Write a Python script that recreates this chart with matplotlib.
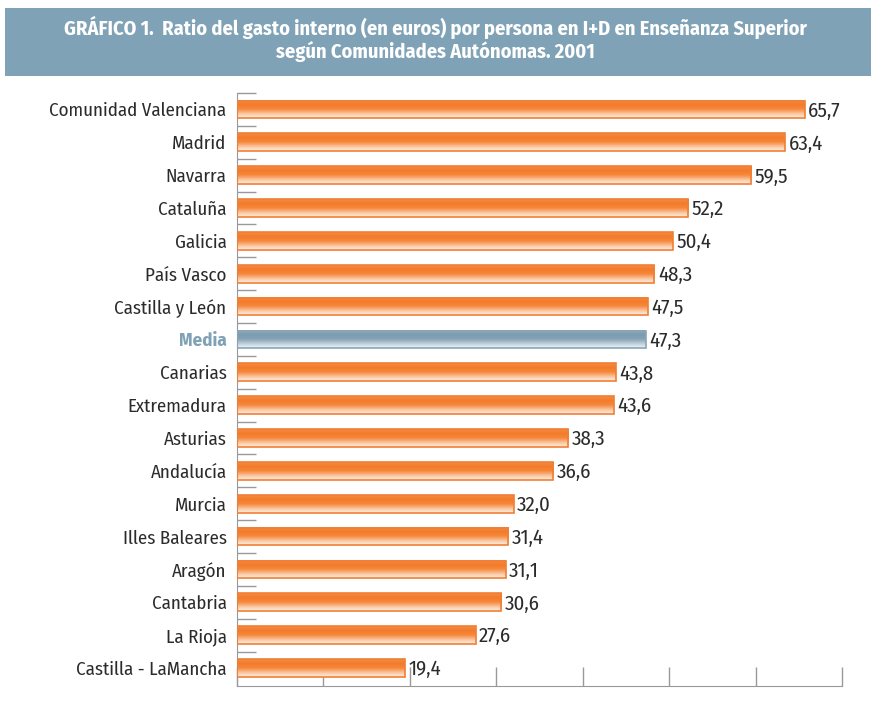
import matplotlib
matplotlib.use("Agg")
import matplotlib.pyplot as plt
import numpy as np
from matplotlib.colors import LinearSegmentedColormap
from matplotlib.patches import Rectangle
from matplotlib import font_manager

names = {f.name for f in font_manager.fontManager.ttflist}
FONT = "DejaVu Sans"
for cand in ["Fira Sans Condensed", "PT Sans Narrow", "Roboto Condensed", "Open Sans Condensed",
             "Encode Sans Condensed", "Archivo Narrow", "Asap Condensed", "Liberation Sans Narrow"]:
    if cand in names:
        FONT = cand
        break

categories = ["Comunidad Valenciana", "Madrid", "Navarra", "Cataluña", "Galicia",
              "País Vasco", "Castilla y León", "Media", "Canarias", "Extremadura",
              "Asturias", "Andalucía", "Murcia", "Illes Baleares", "Aragón",
              "Cantabria", "La Rioja", "Castilla - LaMancha"]
values = [65.7, 63.4, 59.5, 52.2, 50.4, 48.3, 47.5, 47.3, 43.8, 43.6,
          38.3, 36.6, 32.0, 31.4, 31.1, 30.6, 27.6, 19.4]
x_ticks = [0, 10, 20, 30, 40, 50, 60, 70]
title = "GRÁFICO 1.  Ratio del gasto interno (en euros) por persona en I+D en Enseñanza Superior\nsegún Comunidades Autónomas. 2001"

plt.rcParams['font.family'] = [FONT, 'DejaVu Sans']

fig = plt.figure(figsize=(8.71, 7.05), dpi=100)
fig.patch.set_facecolor("white")

# title band
fig.patches.append(Rectangle((5/871, 1-76/705), 866/871, 68/705, transform=fig.transFigure,
                             facecolor="#7fa2b6", edgecolor="none", zorder=0))
fig.text(0.5, 1-39/705, title, ha="center", va="center", color="white",
         fontsize=14.6, fontweight="bold", linespacing=1.15)

ax = fig.add_axes([237/871, 1-686/705, (842-237)/871, (686-93)/705])
y = np.arange(len(categories))
h = 0.54
orange = LinearSegmentedColormap.from_list("o", ["#fef0e6", "#fbc39c", "#f6893c", "#f47a2a", "#f58c45"])
blue = LinearSegmentedColormap.from_list("b", ["#f0f4f6", "#bccdd8", "#86a3b5", "#7d9cb0", "#8fabbc"])
grad = np.linspace(0, 1, 64).reshape(-1, 1)

bars = ax.barh(y, values, height=h, facecolor="none", zorder=3)
for i, (b, v) in enumerate(zip(bars, values)):
    media = categories[i] == "Media"
    cmap = blue if media else orange
    ec = "#8aa5b8" if media else "#f07f35"
    b.set_edgecolor(ec)
    b.set_linewidth(1.2)
    x0, y0 = b.get_x(), b.get_y()
    ax.imshow(grad, cmap=cmap, aspect="auto", origin="lower",
              extent=(x0, x0 + b.get_width(), y0 + b.get_height(), y0), zorder=2,
              interpolation="bilinear")
    ax.text(v + 0.4, b.get_y() + b.get_height() / 2 + 0.05, f"{v:.1f}".replace(".", ","),
            va="center", ha="left", fontsize=15, color="#2b2b2b")

ax.set_xlim(0, 70)
ax.set_ylim(len(categories) - 0.45, -0.5)
ax.set_yticks(y)
ax.set_yticklabels(categories, fontsize=13.6, color="#2b2b2b")
for lab in ax.get_yticklabels():
    if lab.get_text() == "Media":
        lab.set_color("#7fa2b6")
        lab.set_fontweight("bold")
ax.tick_params(axis="y", length=0, pad=7.5)
ax.set_yticks(np.arange(len(categories)) - 0.5, minor=True)
ax.tick_params(axis="y", which="minor", direction="in", length=14, color="#999999", width=1)
ax.set_xticks(x_ticks)
ax.set_xticklabels([])
ax.tick_params(axis="x", direction="in", length=14, color="#999999", width=1)
for s in ["top", "right"]:
    ax.spines[s].set_visible(False)
for s in ["left", "bottom"]:
    ax.spines[s].set_color("#999999")
ax.set_facecolor("none")

fig.savefig("out.png", dpi=100)
